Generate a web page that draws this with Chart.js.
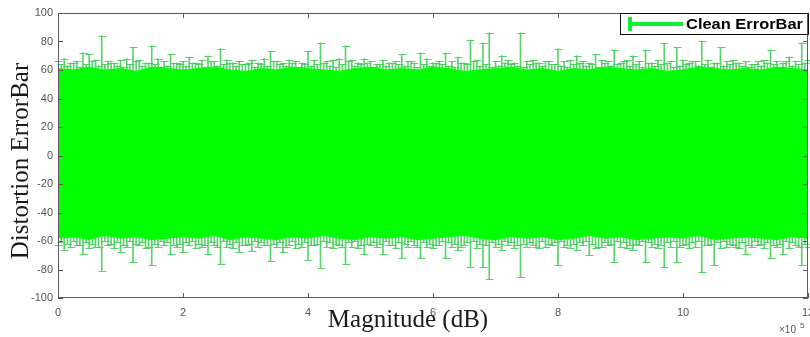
<!DOCTYPE html>
<html>
<head>
<meta charset="utf-8">
<script src="https://cdn.jsdelivr.net/npm/chart.js@4.4.1/dist/chart.umd.min.js"></script>
<style>
    body { margin: 0; background: #fff; }
    #wrap { width: 810px; height: 337px; }
</style>
</head>
<body>
<div id="wrap"><canvas id="myChart" width="810" height="337"></canvas></div>
<script>
// error bar positions (x 10^5) and whisker ends
const xPos = [0.0, 0.1, 0.2, 0.3, 0.4, 0.5, 0.6, 0.7, 0.8, 0.9,
    1.0, 1.1, 1.2, 1.3, 1.4, 1.5, 1.6, 1.7, 1.8, 1.9,
    2.0, 2.1, 2.2, 2.3, 2.4, 2.5, 2.6, 2.7, 2.8, 2.9,
    3.0, 3.1, 3.2, 3.3, 3.4, 3.5, 3.6, 3.7, 3.8, 3.9,
    4.0, 4.1, 4.2, 4.3, 4.4, 4.5, 4.6, 4.7, 4.8, 4.9,
    5.0, 5.1, 5.2, 5.3, 5.4, 5.5, 5.6, 5.7, 5.8, 5.9,
    6.0, 6.1, 6.2, 6.3, 6.4, 6.5, 6.6, 6.7, 6.8, 6.9,
    7.0, 7.1, 7.2, 7.3, 7.4, 7.5, 7.6, 7.7, 7.8, 7.9,
    8.0, 8.1, 8.2, 8.3, 8.4, 8.5, 8.6, 8.7, 8.8, 8.9,
    9.0, 9.1, 9.2, 9.3, 9.4, 9.5, 9.6, 9.7, 9.8, 9.9,
    10.0, 10.1, 10.2, 10.3, 10.4, 10.5, 10.6, 10.7, 10.8, 10.9,
    11.0, 11.1, 11.2, 11.3, 11.4, 11.5, 11.6, 11.7, 11.8, 11.9, 12.0];

const upperErr = [66, 68, 65, 66, 72, 71, 67, 84, 66, 65,
    67, 68, 76, 67, 65, 77, 68, 66, 71, 65,
    66, 69, 65, 67, 70, 66, 75, 67, 65, 66,
    64, 67, 65, 68, 73, 66, 65, 67, 66, 65,
    73, 67, 79, 66, 67, 68, 77, 67, 65, 68,
    66, 64, 67, 65, 66, 71, 66, 65, 72, 68,
    65, 66, 72, 66, 69, 65, 81, 67, 79, 86,
    66, 70, 67, 65, 86, 66, 67, 65, 66, 64,
    75, 66, 67, 70, 66, 65, 71, 67, 66, 74,
    65, 67, 70, 66, 74, 65, 67, 79, 66, 76,
    67, 65, 66, 80, 67, 65, 76, 66, 67, 65,
    66, 64, 66, 67, 74, 66, 65, 69, 66, 79, 67];

const lowerErr = [-63, -66, -64, -63, -69, -65, -64, -81, -63, -65,
    -68, -64, -75, -63, -65, -77, -64, -63, -69, -64,
    -68, -63, -65, -64, -69, -63, -76, -64, -65, -68,
    -63, -67, -64, -63, -74, -64, -68, -63, -65, -64,
    -73, -63, -79, -64, -65, -63, -76, -64, -65, -69,
    -63, -64, -69, -63, -65, -72, -64, -63, -72, -64,
    -65, -63, -72, -64, -66, -63, -78, -65, -78, -87,
    -64, -66, -63, -65, -85, -64, -63, -65, -64, -63,
    -77, -64, -65, -66, -63, -70, -65, -64, -63, -75,
    -64, -65, -66, -63, -75, -64, -65, -78, -64, -75,
    -63, -65, -64, -82, -63, -77, -65, -64, -63, -65,
    -69, -64, -63, -65, -72, -64, -69, -65, -63, -77, -64];

// short bars in between, just past the solid body
const xMid = [0.05, 0.15, 0.25, 0.35, 0.45, 0.55, 0.65, 0.75, 0.85, 0.95,
    1.05, 1.15, 1.25, 1.35, 1.45, 1.55, 1.65, 1.75, 1.85, 1.95,
    2.05, 2.15, 2.25, 2.35, 2.45, 2.55, 2.65, 2.75, 2.85, 2.95,
    3.05, 3.15, 3.25, 3.35, 3.45, 3.55, 3.65, 3.75, 3.85, 3.95,
    4.05, 4.15, 4.25, 4.35, 4.45, 4.55, 4.65, 4.75, 4.85, 4.95,
    5.05, 5.15, 5.25, 5.35, 5.45, 5.55, 5.65, 5.75, 5.85, 5.95,
    6.05, 6.15, 6.25, 6.35, 6.45, 6.55, 6.65, 6.75, 6.85, 6.95,
    7.05, 7.15, 7.25, 7.35, 7.45, 7.55, 7.65, 7.75, 7.85, 7.95,
    8.05, 8.15, 8.25, 8.35, 8.45, 8.55, 8.65, 8.75, 8.85, 8.95,
    9.05, 9.15, 9.25, 9.35, 9.45, 9.55, 9.65, 9.75, 9.85, 9.95,
    10.05, 10.15, 10.25, 10.35, 10.45, 10.55, 10.65, 10.75, 10.85, 10.95,
    11.05, 11.15, 11.25, 11.35, 11.45, 11.55, 11.65, 11.75, 11.85, 11.95];

const upperMid = [64, 63, 65, 62, 64, 66, 63, 64, 65, 63,
    62, 64, 66, 63, 65, 64, 62, 63, 65, 64,
    63, 65, 64, 62, 66, 63, 64, 65, 63, 64,
    65, 62, 64, 63, 66, 64, 63, 65, 62, 64,
    63, 64, 65, 63, 62, 64, 66, 63, 64, 65,
    62, 64, 63, 65, 64, 63, 66, 62, 64, 63,
    65, 64, 63, 62, 65, 64, 66, 63, 64, 62,
    63, 65, 64, 63, 62, 64, 65, 63, 66, 64,
    63, 62, 64, 65, 63, 64, 62, 65, 63, 64,
    66, 63, 64, 62, 65, 63, 64, 65, 62, 63,
    64, 66, 63, 64, 62, 65, 63, 64, 65, 63,
    62, 64, 63, 65, 64, 62, 66, 63, 64, 65];

const lowerMid = [-61, -62, -60, -63, -61, -62, -64, -60, -62, -61,
    -63, -60, -62, -61, -64, -62, -60, -61, -63, -62,
    -61, -60, -62, -63, -61, -64, -60, -62, -61, -63,
    -62, -60, -61, -63, -62, -61, -64, -60, -62, -61,
    -63, -62, -60, -61, -62, -64, -61, -60, -63, -62,
    -61, -62, -60, -63, -61, -62, -60, -64, -61, -62,
    -63, -60, -61, -62, -64, -61, -60, -62, -63, -61,
    -62, -60, -61, -63, -62, -61, -64, -60, -62, -61,
    -60, -63, -62, -61, -60, -62, -64, -61, -62, -60,
    -61, -63, -62, -60, -61, -62, -63, -61, -60, -64,
    -62, -61, -60, -63, -62, -61, -60, -62, -64, -61,
    -63, -60, -62, -61, -63, -62, -60, -61, -64, -62];

// solid body where the bars overlap
const bandX = [0, 0.25, 0.5, 0.75, 1, 1.25, 1.5, 1.75, 2, 2.25, 2.5, 2.75,
    3, 3.25, 3.5, 3.75, 4, 4.25, 4.5, 4.75, 5, 5.25, 5.5, 5.75,
    6, 6.25, 6.5, 6.75, 7, 7.25, 7.5, 7.75, 8, 8.25, 8.5, 8.75,
    9, 9.25, 9.5, 9.75, 10, 10.25, 10.5, 10.75, 11, 11.25, 11.5, 11.75, 12];
const bandTop = [61, 60, 62, 60, 61, 59, 62, 61, 60, 61, 62, 60,
    59, 61, 60, 62, 61, 60, 59, 61, 62, 60, 61, 60,
    62, 61, 59, 60, 61, 62, 60, 61, 59, 61, 60, 62,
    61, 60, 61, 59, 60, 62, 61, 60, 61, 60, 62, 61, 60];
const bandBottom = [-58, -57, -59, -56, -58, -57, -59, -58, -57, -58, -56, -59,
    -57, -58, -59, -57, -58, -56, -58, -59, -57, -58, -57, -59,
    -58, -57, -56, -58, -59, -57, -58, -57, -59, -58, -56, -58,
    -57, -59, -58, -57, -58, -56, -59, -58, -57, -58, -59, -57, -58];

const xTicks = [0, 2, 4, 6, 8, 10, 12];
const yTicks = [-100, -80, -60, -40, -20, 0, 20, 40, 60, 80, 100];

const whiskerColor = 'rgba(70, 205, 90, 0.9)';
const bodyColor = '#00ff00';
const axisColor = '#5a5a5a';

function drawCaps(ctx, x, y, xs, ends) {
    xs.forEach(function(v, i) {
        var px = Math.round(x.getPixelForValue(v)) + 0.5;
        ends.forEach(function(arr) {
            var py = Math.round(y.getPixelForValue(arr[i])) + 0.5;
            ctx.beginPath();
            ctx.moveTo(px - 4, py);
            ctx.lineTo(px + 4, py);
            ctx.stroke();
        });
    });
}

var frame = {
    id: 'frame',
    beforeDatasetsDraw: function(c) {
        var ctx = c.ctx, x = c.scales.x, y = c.scales.y;
        ctx.save();
        ctx.strokeStyle = whiskerColor;
        ctx.lineWidth = 1;
        drawCaps(ctx, x, y, xPos, [upperErr, lowerErr]);
        drawCaps(ctx, x, y, xMid, [upperMid, lowerMid]);
        ctx.restore();
    },
    afterDraw: function(c) {
        var ctx = c.ctx, x = c.scales.x, y = c.scales.y, a = c.chartArea;
        ctx.save();
        // axes box with inward ticks
        ctx.strokeStyle = axisColor;
        ctx.lineWidth = 1;
        ctx.strokeRect(a.left + 0.5, a.top + 0.5, a.right - a.left - 1, a.bottom - a.top - 1);
        ctx.beginPath();
        xTicks.forEach(function(t) {
            var px = Math.round(x.getPixelForValue(t)) + 0.5;
            ctx.moveTo(px, a.bottom); ctx.lineTo(px, a.bottom - 5);
            ctx.moveTo(px, a.top); ctx.lineTo(px, a.top + 5);
        });
        yTicks.forEach(function(t) {
            var py = Math.round(y.getPixelForValue(t)) + 0.5;
            ctx.moveTo(a.left, py); ctx.lineTo(a.left + 5, py);
            ctx.moveTo(a.right, py); ctx.lineTo(a.right - 5, py);
        });
        ctx.stroke();

        // axis titles
        ctx.fillStyle = '#1a1a1a';
        ctx.font = '25px "Liberation Serif", "DejaVu Serif", serif';
        ctx.textAlign = 'center';
        ctx.textBaseline = 'alphabetic';
        ctx.fillText('Magnitude (dB)', 408, 327);
        ctx.save();
        ctx.translate(28, 161);
        ctx.rotate(-Math.PI / 2);
        ctx.fillText('Distortion ErrorBar', 0, 0);
        ctx.restore();

        // exponent label
        ctx.fillStyle = '#555';
        ctx.textAlign = 'left';
        ctx.font = '10px "Liberation Sans", Arial, sans-serif';
        ctx.fillText('\u00d710', 779, 333);
        ctx.font = '8px "Liberation Sans", Arial, sans-serif';
        ctx.fillText('5', 800, 328);

        // legend
        ctx.fillStyle = '#fff';
        ctx.fillRect(621, 14, 186, 21);
        ctx.strokeStyle = '#111';
        ctx.strokeRect(620.5, 13.5, 188, 21);
        ctx.strokeStyle = '#10f030';
        ctx.lineWidth = 4;
        ctx.beginPath();
        ctx.moveTo(630, 17); ctx.lineTo(630, 31);
        ctx.moveTo(630, 24); ctx.lineTo(683, 24);
        ctx.stroke();
        ctx.fillStyle = '#000';
        ctx.font = 'bold 14px "Liberation Sans", Arial, sans-serif';
        var w = ctx.measureText('Clean ErrorBar').width;
        ctx.translate(686, 29);
        ctx.scale(117 / w, 1);
        ctx.fillText('Clean ErrorBar', 0, 0);
        ctx.restore();
    }
};

const config = {
    type: 'line',
    data: {
        datasets: [
            {
                type: 'line',
                data: bandX.map((v, i) => ({ x: v, y: bandTop[i] })),
                borderColor: bodyColor,
                backgroundColor: bodyColor,
                borderWidth: 1,
                pointRadius: 0,
                fill: '+1',
                order: 0
            },
            {
                type: 'line',
                data: bandX.map((v, i) => ({ x: v, y: bandBottom[i] })),
                borderColor: bodyColor,
                backgroundColor: bodyColor,
                borderWidth: 1,
                pointRadius: 0,
                fill: false,
                order: 0
            },
            {
                type: 'bar',
                data: xPos.map((v, i) => ({ x: v, y: [lowerErr[i], upperErr[i]] })),
                backgroundColor: whiskerColor,
                borderWidth: 0,
                barThickness: 1,
                grouped: false,
                order: 1
            },
            {
                type: 'bar',
                data: xMid.map((v, i) => ({ x: v, y: [lowerMid[i], upperMid[i]] })),
                backgroundColor: whiskerColor,
                borderWidth: 0,
                barThickness: 1,
                grouped: false,
                order: 1
            }
        ]
    },
    options: {
        responsive: false,
        animation: false,
        layout: { padding: { top: 13, right: 2, left: 0, bottom: 0 } },
        plugins: {
            legend: { display: false },
            tooltip: { enabled: false }
        },
        scales: {
            x: {
                type: 'linear',
                min: 0,
                max: 12,
                offset: false,
                grid: { display: false, drawTicks: false },
                border: { display: false },
                ticks: {
                    stepSize: 2,
                    padding: 8,
                    maxRotation: 0,
                    color: '#555',
                    font: { family: '"Liberation Sans", Arial, sans-serif', size: 11 }
                },
                afterFit: function(s) {
                    s.height = 39;
                    s.paddingLeft = 0;
                    s.paddingRight = 0;
                }
            },
            y: {
                min: -100,
                max: 100,
                grid: { display: false, drawTicks: false },
                border: { display: false },
                ticks: {
                    stepSize: 20,
                    padding: 5,
                    color: '#555',
                    font: { family: '"Liberation Sans", Arial, sans-serif', size: 11 }
                },
                afterFit: function(s) { s.width = 58; }
            }
        }
    },
    plugins: [frame]
};

const myChart = new Chart(document.getElementById('myChart'), config);
</script>
</body>
</html>
